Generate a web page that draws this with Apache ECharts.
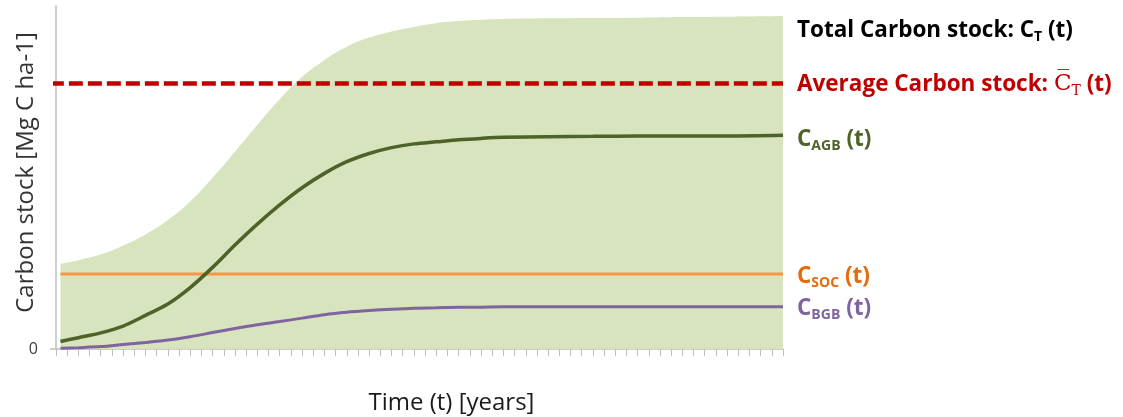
<!DOCTYPE html>
<html>
<head>
<meta charset="utf-8">
<script src="https://cdn.jsdelivr.net/npm/echarts@6/dist/echarts.min.js"></script>
<style>
  html, body { margin: 0; padding: 0; background: #fff; }
  #chart { width: 1123px; height: 417px; }
</style>
</head>
<body>
<div id="chart"></div>
<script>
// Time in years (x axis)
const years = [0.4, 2, 4, 6, 8, 10, 12, 14, 16, 18, 20, 22, 24, 26, 28, 30,
               32, 34, 36, 38, 40, 44, 48, 52, 56, 60, 65];

// Carbon pools over time [Mg C ha-1]
const totalStock = [24.9, 25.9, 27.6, 30.2, 33.4, 37.6, 43.0, 49.9, 57.5, 65.3, 72.8, 79.3, 84.2, 88.1, 90.8, 92.6,
                    93.9, 95.0, 95.6, 96.0, 96.2, 96.4, 96.5, 96.6, 96.8, 96.9, 97.1];
const agbStock   = [2.2, 3.3, 4.7, 6.7, 9.8, 13.1, 17.9, 23.8, 30.3, 36.4, 42.0, 47.0, 51.2, 54.6, 57.0, 58.7,
                    59.8, 60.4, 61.0, 61.4, 61.7, 61.9, 62.0, 62.1, 62.1, 62.1, 62.3];
const bgbStock   = [0.2, 0.4, 0.7, 1.3, 1.9, 2.6, 3.6, 4.8, 6.0, 7.1, 8.0, 9.0, 10.0, 10.7, 11.2, 11.6,
                    11.9, 12.0, 12.15, 12.2, 12.3, 12.3, 12.3, 12.3, 12.3, 12.3, 12.3];
const socLevel = 21.9;        // soil organic carbon, constant
const avgLevel = 77.4;        // time-averaged total carbon stock
const avgSpan = [-0.55, 65];  // extent of the dashed average line

const yTicks = [0];

const pair = (xs, ys) => xs.map((x, i) => [x, ys[i]]);
const tStart = years[0], tEnd = years[years.length - 1];

const FONT = '"Open Sans", Lato, sans-serif';

const chart = echarts.init(document.getElementById('chart'), null, { renderer: 'canvas' });

chart.setOption({
  animation: false,
  backgroundColor: '#ffffff',
  grid: { left: 56, right: 340, top: 6, bottom: 68, outerBoundsMode: 'none', containLabel: false },
  xAxis: {
    type: 'value',
    min: 0, max: 65, interval: 1,
    name: 'Time (t) [years]',
    nameLocation: 'middle',
    nameGap: 42,
    nameMoveOverlap: false,
    nameTextStyle: { fontFamily: FONT, fontSize: 24, color: '#1a1a1a', padding: [0, 0, 0, 64] },
    axisLine: { lineStyle: { color: '#bfbfbf', width: 1.5 } },
    axisTick: { show: true, length: 7, lineStyle: { color: '#bfbfbf', width: 1 } },
    axisLabel: { show: false },
    splitLine: { show: false }
  },
  yAxis: {
    type: 'value',
    min: 0, max: 100,
    name: 'Carbon stock [Mg C ha-1]',
    nameLocation: 'middle',
    nameGap: 18,
    nameMoveOverlap: false,
    nameRotate: 90,
    nameTextStyle: { fontFamily: FONT, fontSize: 24, color: '#333333', padding: [0, 0, 0, 10] },
    axisLine: { show: true, lineStyle: { color: '#bfbfbf', width: 1.5 } },
    axisTick: { show: true, length: 6, customValues: yTicks, lineStyle: { color: '#bfbfbf', width: 1.5 } },
    axisLabel: { show: true, customValues: yTicks, fontFamily: FONT, fontSize: 16, color: '#404040', margin: 18 },
    splitLine: { show: false }
  },
  series: [
    {
      name: 'Total',
      type: 'line',
      data: pair(years, totalStock),
      smooth: true,
      symbol: 'none',
      lineStyle: { width: 0 },
      areaStyle: { color: '#d7e4bd', opacity: 1 },
      z: 1
    },
    {
      name: 'Average',
      type: 'line',
      data: pair(avgSpan, [avgLevel, avgLevel]),
      symbol: 'none',
      clip: false,
      lineStyle: { color: '#c00000', width: 4.5, type: [14, 5] },
      z: 3
    },
    {
      name: 'SOC',
      type: 'line',
      data: pair([tStart, tEnd], [socLevel, socLevel]),
      symbol: 'none',
      lineStyle: { color: '#f79646', width: 3 },
      z: 3
    },
    {
      name: 'AGB',
      type: 'line',
      data: pair(years, agbStock),
      smooth: 0.3,
      symbol: 'none',
      lineStyle: { color: '#4f6228', width: 3.5 },
      z: 4
    },
    {
      name: 'BGB',
      type: 'line',
      data: pair(years, bgbStock),
      smooth: 0.3,
      symbol: 'none',
      lineStyle: { color: '#8064a2', width: 3 },
      z: 4
    }
  ]
});

// Right-hand pool labels, placed beside the end of each curve
function richStyles(color) {
  return {
    b:   { fontFamily: FONT, fontWeight: 'bold', fontSize: 22.5, fill: color, lineHeight: 28, verticalAlign: 'middle' },
    sub: { fontFamily: FONT, fontWeight: 'bold', fontSize: 14, fill: color, lineHeight: 14, verticalAlign: 'middle', padding: [13, 0, 0, 0] },
    m:   { fontFamily: '"DejaVu Serif", serif', fontSize: 23, fill: color, lineHeight: 28, verticalAlign: 'middle' },
    ms:  { fontFamily: '"DejaVu Serif", serif', fontSize: 14, fill: color, lineHeight: 14, verticalAlign: 'middle', padding: [13, 0, 0, 0] }
  };
}

const labelDefs = [
  { value: totalStock[totalStock.length - 1], dy: 15, color: '#000000', text: '{b|Total Carbon stock: C}{sub|T}{b| (t)}' },
  { value: avgLevel, dy: 1, color: '#c00000', text: '{b|Average Carbon stock: }{m|C\u0305}{ms|T}{b| (t)}' },
  { value: agbStock[agbStock.length - 1], dy: 4, color: '#4f6228', text: '{b|C}{sub|AGB}{b| (t)}' },
  { value: socLevel, dy: 3, color: '#e46c0a', text: '{b|C}{sub|SOC}{b| (t)}' },
  { value: bgbStock[bgbStock.length - 1], dy: 2, color: '#8064a2', text: '{b|C}{sub|BGB}{b| (t)}' }
];

const graphics = labelDefs.map(d => {
  const p = chart.convertToPixel({ gridIndex: 0 }, [tEnd, d.value]);
  return {
    type: 'text',
    x: p[0] + 14,
    y: p[1] + d.dy,
    style: {
      text: d.text,
      rich: richStyles(d.color),
      align: 'left',
      verticalAlign: 'middle'
    },
    z: 10
  };
});

chart.setOption({ graphic: graphics });
</script>
</body>
</html>
